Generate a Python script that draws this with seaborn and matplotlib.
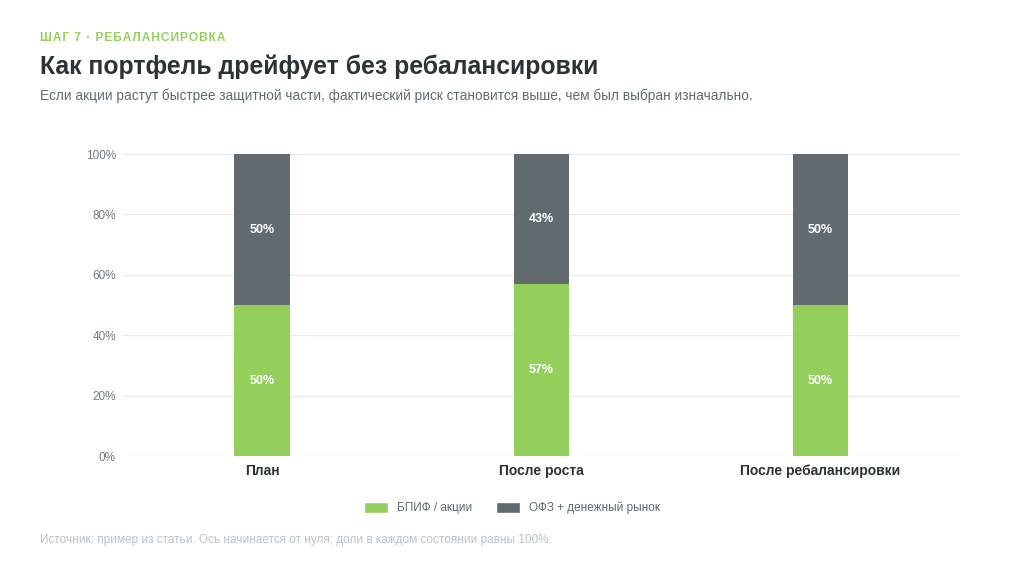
import pandas as pd
import matplotlib.pyplot as plt
import seaborn as sns
from matplotlib.patches import Patch
from matplotlib.ticker import PercentFormatter

# Данные
states = ["План", "После роста", "После ребалансировки"]
equity = [50, 57, 50]
bonds = [50, 43, 50]
series_names = ["БПИФ / акции", "ОФЗ + денежный рынок"]

green = "#95cf5b"
grey = "#616b6f"

df = pd.DataFrame({"state": states, "equity": equity, "bonds": bonds})
df["total"] = df["equity"] + df["bonds"]

sns.set_style("white")
plt.rcParams["font.family"] = ["Liberation Sans", "DejaVu Sans"]

fig = plt.figure(figsize=(10.24, 5.78), dpi=100)
fig.patch.set_facecolor("white")
ax = fig.add_axes([0.120, 0.211, 0.8175, 0.5225])

# Сначала итог (серый), поверх доля акций (зелёный)
sns.barplot(data=df, x="state", y="total", color=grey, width=0.2,
            saturation=1, linewidth=0, ax=ax, zorder=2)
sns.barplot(data=df, x="state", y="equity", color=green, width=0.2,
            saturation=1, linewidth=0, ax=ax, zorder=3)

# Подписи внутри сегментов
for i, (e, b) in enumerate(zip(equity, bonds)):
    ax.text(i, e / 2, f"{e}%", ha="center", va="center", color="white",
            fontsize=9, fontweight="bold", zorder=4)
    ax.text(i, e + b / 2, f"{b}%", ha="center", va="center",
            color="white", fontsize=9, fontweight="bold", zorder=4)

ax.set_xlim(-0.5, 2.5)
ax.set_ylim(0, 100)
ax.set_yticks(range(0, 101, 20))
ax.yaxis.set_major_formatter(PercentFormatter(decimals=0))
ax.grid(axis="y", color="#e6eaed", linewidth=0.9, zorder=0)
ax.set_axisbelow(True)
for s in ax.spines.values():
    s.set_visible(False)
ax.set_xlabel("")
ax.set_ylabel("")
ax.tick_params(axis="y", length=0, labelsize=8.5, labelcolor="#6f7a80", pad=5)
ax.tick_params(axis="x", length=0, labelsize=10, labelcolor="#2b3336", pad=6)
for lbl in ax.get_xticklabels():
    lbl.set_fontweight("bold")

# Заголовки
kicker = "\u200a".join("ШАГ 7 · РЕБАЛАНСИРОВКА")
fig.text(0.039, 0.934, kicker, color=green, fontsize=8.6,
         fontweight="bold", va="center")
fig.text(0.039, 0.884, "Как портфель дрейфует без ребалансировки",
         color="#2b3336", fontsize=17.8, fontweight="bold", va="center")
fig.text(0.039, 0.834,
         "Если акции растут быстрее защитной части, фактический риск становится выше, чем был выбран изначально.",
         color="#5f6b70", fontsize=9.8, va="center")

# Легенда
handles = [Patch(facecolor=green, label=series_names[0]),
           Patch(facecolor=grey, label=series_names[1])]
fig.legend(handles=handles, loc="center", bbox_to_anchor=(0.5, 0.121),
           ncol=2, frameon=False, fontsize=8.5, handlelength=2.0,
           handleheight=1.1, columnspacing=2.0, labelcolor="#5f6b70")

fig.text(0.039, 0.066,
         "Источник: пример из статьи. Ось начинается от нуля; доли в каждом состоянии равны 100%.",
         color="#b8c2c8", fontsize=8.5, va="center")

fig.savefig("out.png", dpi=100, facecolor=fig.get_facecolor())
